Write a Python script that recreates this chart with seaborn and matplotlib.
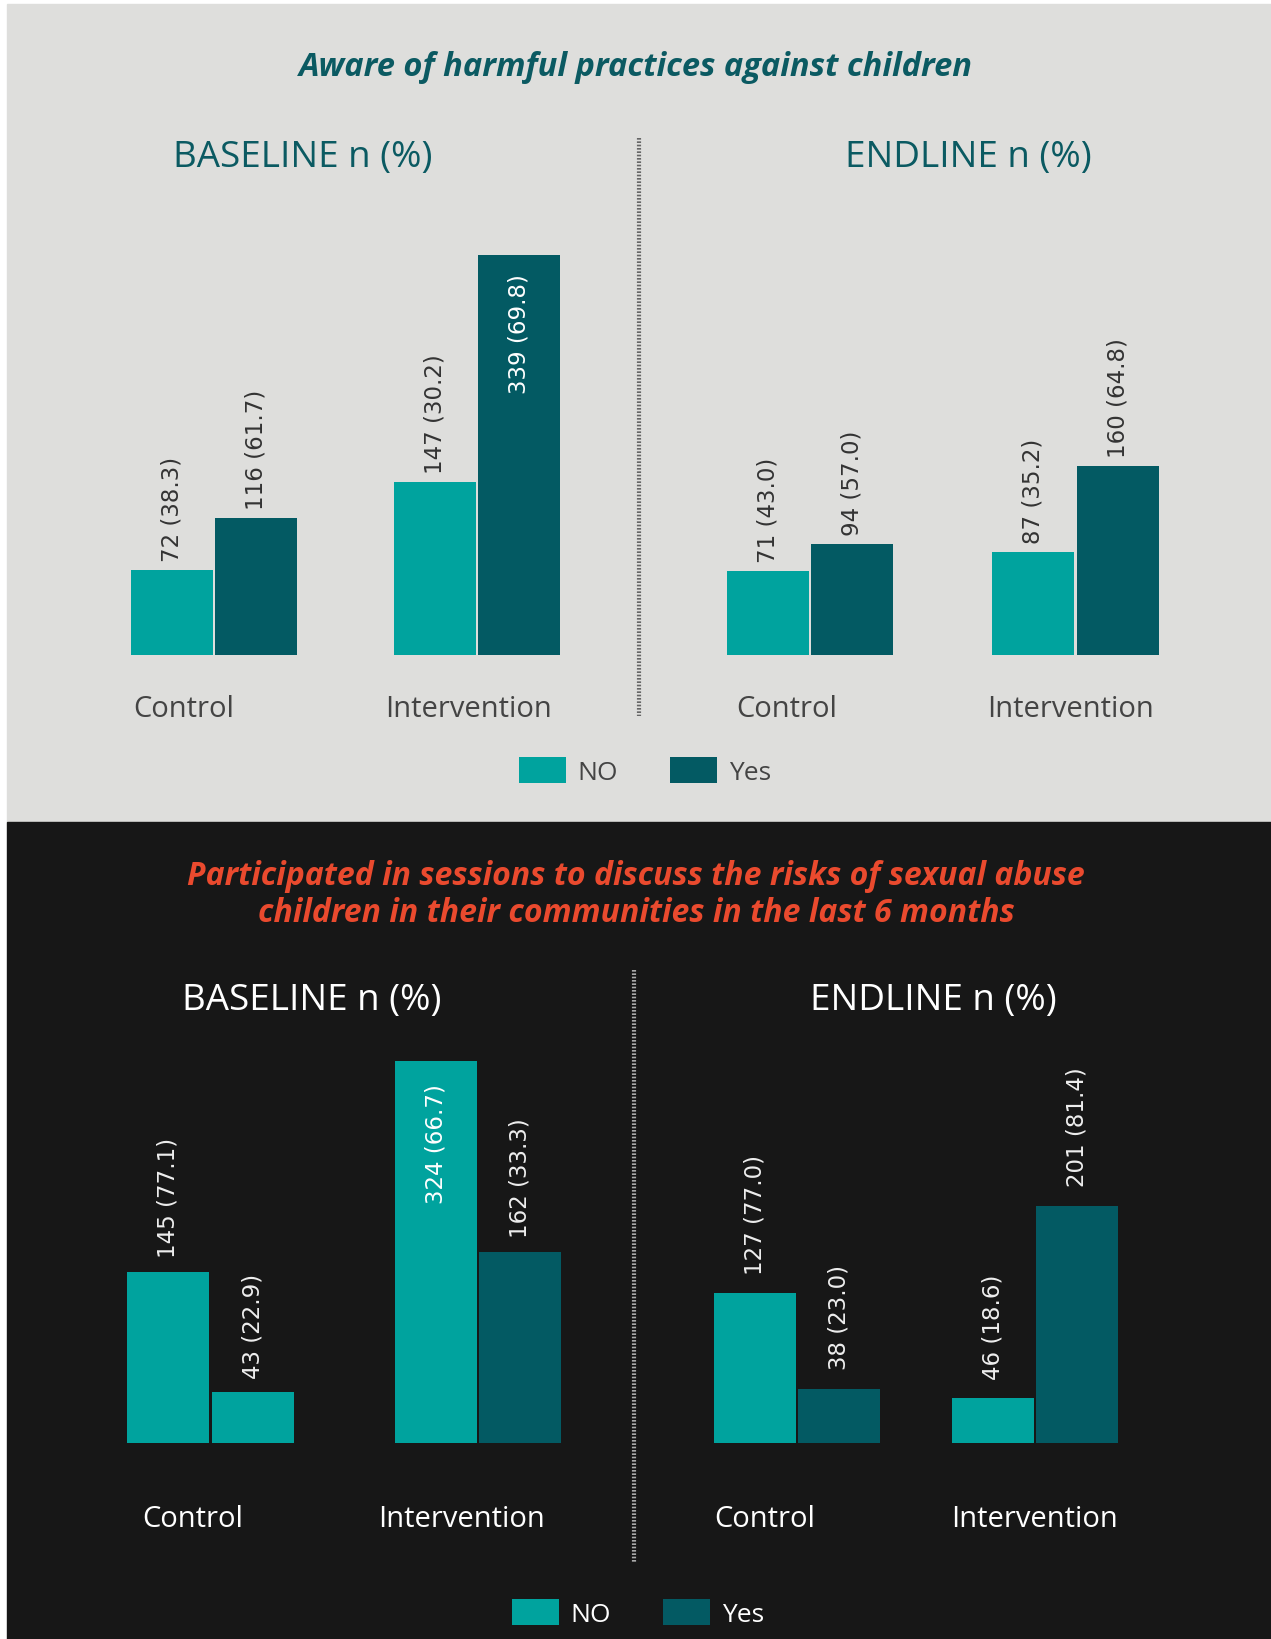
import pandas as pd
import matplotlib.pyplot as plt
from matplotlib.patches import Rectangle
from matplotlib.lines import Line2D
import seaborn as sns

# data
groups = ["Control", "Intervention"]
answers = ["NO", "Yes"]

aware_base_no = [72, 147]
aware_base_no_pct = [38.3, 30.2]
aware_base_yes = [116, 339]
aware_base_yes_pct = [61.7, 69.8]
aware_end_no = [71, 87]
aware_end_no_pct = [43.0, 35.2]
aware_end_yes = [94, 160]
aware_end_yes_pct = [57.0, 64.8]

sess_base_no = [145, 324]
sess_base_no_pct = [77.1, 66.7]
sess_base_yes = [43, 162]
sess_base_yes_pct = [22.9, 33.3]
sess_end_no = [127, 46]
sess_end_no_pct = [77.0, 18.6]
sess_end_yes = [38, 201]
sess_end_yes_pct = [23.0, 81.4]
# bar heights as drawn in the original (the 38 / 46 bars are swapped there)
sess_end_no_bar = [127, 38]
sess_end_yes_bar = [46, 201]

title_top = "Aware of harmful practices against children"
title_bottom = ("Participated in sessions to discuss the risks of sexual abuse\n"
                "children in their communities in the last 6 months")
heading_base = "BASELINE n (%)"
heading_end = "ENDLINE n (%)"

NO_COLOR = "#00a39e"
YES_COLOR = "#035a63"
LIGHT_BG = "#dededc"
DARK_BG = "#171717"
TEAL_TEXT = "#0b5a62"
RED_TEXT = "#ea4a2e"

sns.set_style("white")
plt.rcParams["font.family"] = ["Open Sans", "DejaVu Sans"]

W, H = 1271, 1640
fig = plt.figure(figsize=(W / 100, H / 100), dpi=100)
fig.patch.set_facecolor("white")


def make_df(no, no_pct, yes, yes_pct, no_bar=None, yes_bar=None):
    no_bar = no_bar or no
    yes_bar = yes_bar or yes
    rows = []
    for i, g in enumerate(groups):
        rows.append({"group": g, "answer": "NO", "bar": no_bar[i], "n": no[i], "pct": no_pct[i]})
        rows.append({"group": g, "answer": "Yes", "bar": yes_bar[i], "n": yes[i], "pct": yes_pct[i]})
    return pd.DataFrame(rows)


def px_axes(left, baseline, spacing, height=472):
    # axes whose group centres sit `spacing` px apart, x range -0.5..1.5
    width = 2 * spacing
    ax = fig.add_axes([left / W, 1 - baseline / H, width / W, height / H])
    ax.set_facecolor("none")
    return ax


def draw_panel(ax, df, spacing, dark, label_offsets, pad, legend=False,
               inside_pad=13, label_gap=6.5):
    sns.barplot(data=df, x="group", y="bar", hue="answer", order=groups,
                hue_order=answers, palette=[NO_COLOR, YES_COLOR],
                width=2 * 84.5 / spacing, gap=0.03, saturation=1,
                linewidth=0, ax=ax, legend=legend)
    ax.set_xlim(-0.5, 1.5)
    ax.set_ylim(0, 400)
    ax.set_xlabel("")
    ax.set_ylabel("")
    ax.set_yticks([])
    for s in ax.spines.values():
        s.set_visible(False)
    txt_color = "white" if dark else "#444444"
    lab_color = "#eeeeee" if dark else "#333333"
    ax.set_xticks([i + off / spacing for i, off in enumerate(label_offsets)], groups)
    ax.tick_params(axis="x", length=0, pad=pad, labelsize=21, labelcolor=txt_color)

    for level, cont in zip(answers, ax.containers):
        sub = df[df["answer"] == level].set_index("group").loc[groups]
        for bar, (n, pct) in zip(cont, zip(sub["n"], sub["pct"])):
            x = bar.get_x() + bar.get_width() / 2
            h = bar.get_height()
            text = f"{n} ({pct:.1f})"
            if h > 300:
                ax.annotate(text, (x, h), xytext=(0, -inside_pad), textcoords="offset points",
                            rotation=90, ha="center", va="top", fontsize=16.5,
                            color="white", family="DejaVu Sans")
            else:
                ax.annotate(text, (x, h), xytext=(0, label_gap), textcoords="offset points",
                            rotation=90, ha="center", va="bottom", fontsize=16.5,
                            color=lab_color, family="DejaVu Sans")


# backgrounds
fig.add_artist(Rectangle((7 / W, 1 - 823 / H), 1 - 7 / W, (823 - 5) / H,
                         transform=fig.transFigure, color=LIGHT_BG, zorder=-10))
fig.add_artist(Rectangle((7 / W, 0), 1 - 7 / W, 1 - 823 / H,
                         transform=fig.transFigure, color=DARK_BG, zorder=-10))

# top panel
ax1 = px_axes(82.5, 656, 263)
draw_panel(ax1, make_df(aware_base_no, aware_base_no_pct, aware_base_yes, aware_base_yes_pct),
           263, False, [-30, -9], 28, legend=True)
ax2 = px_axes(677.25, 656, 265.5)
draw_panel(ax2, make_df(aware_end_no, aware_end_no_pct, aware_end_yes, aware_end_yes_pct),
           265.5, False, [-23, -5], 28)

# bottom panel
ax3 = px_axes(76.75, 1444, 267.5)
draw_panel(ax3, make_df(sess_base_no, sess_base_no_pct, sess_base_yes, sess_base_yes_pct),
           267.5, True, [-18, -16], 44, legend=True, inside_pad=16, label_gap=10.5)
# the original shows this "Yes" bar in the NO colour
ax3.containers[1][0].set_facecolor(NO_COLOR)
ax4 = px_axes(678, 1444, 238)
draw_panel(ax4, make_df(sess_end_no, sess_end_no_pct, sess_end_yes, sess_end_yes_pct,
                        sess_end_no_bar, sess_end_yes_bar),
           238, True, [-32, -1], 44, label_gap=14)

# legends
leg_kw = dict(ncol=2, frameon=False, title=None, fontsize=19, handlelength=1.77,
              handleheight=1.1, handletextpad=0.46, columnspacing=1.96,
              bbox_transform=fig.transFigure)
sns.move_legend(ax1, "center", bbox_to_anchor=(645 / W, 1 - 772 / H),
                labelcolor="#444444", **leg_kw)
sns.move_legend(ax3, "center", bbox_to_anchor=(638 / W, 1 - 1614 / H),
                labelcolor="white", **leg_kw)

# titles and headings
fig.text(636 / W, 1 - 68 / H, title_top, ha="center", va="center", fontsize=23.5,
         fontweight="bold", fontstyle="italic", fontstretch="condensed", color=TEAL_TEXT)
fig.text(636 / W, 1 - 895 / H, title_bottom, ha="center", va="center", fontsize=23,
         fontweight="bold", fontstyle="italic", fontstretch="condensed", color=RED_TEXT,
         linespacing=1.15)
fig.text(303 / W, 1 - 158 / H, heading_base, ha="center", va="center", fontsize=26.5, color=TEAL_TEXT)
fig.text(968 / W, 1 - 158 / H, heading_end, ha="center", va="center", fontsize=26.5, color=TEAL_TEXT)
fig.text(312 / W, 1 - 1001 / H, heading_base, ha="center", va="center", fontsize=26.5, color="white")
fig.text(933 / W, 1 - 1001 / H, heading_end, ha="center", va="center", fontsize=26.5, color="white")

# dotted separators
fig.add_artist(Line2D([639 / W, 639 / W], [1 - 139 / H, 1 - 717 / H], transform=fig.transFigure,
                      color="#666666", lw=3, linestyle=(0, (0.4, 0.4))))
fig.add_artist(Line2D([634 / W, 634 / W], [1 - 971 / H, 1 - 1563 / H], transform=fig.transFigure,
                      color="#aaaaaa", lw=3, linestyle=(0, (0.4, 0.4))))

fig.savefig("out.png", dpi=100)
